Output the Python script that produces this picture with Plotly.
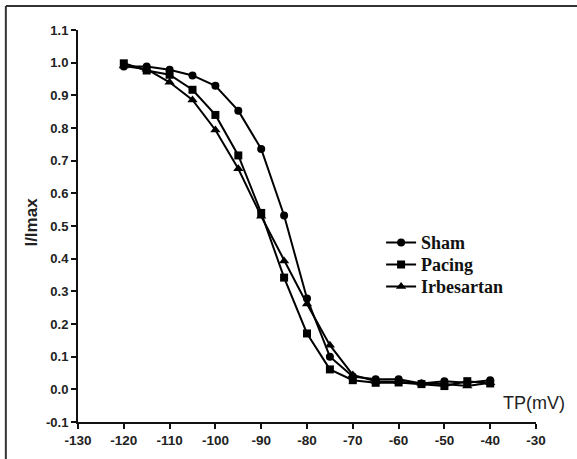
import plotly.graph_objects as go

voltage = [-120, -115, -110, -105, -100, -95, -90, -85, -80, -75, -70, -65, -60, -55, -50, -45, -40]
sham = [0.988, 0.988, 0.978, 0.961, 0.929, 0.853, 0.736, 0.532, 0.278, 0.100, 0.039, 0.031, 0.031, 0.018, 0.025, 0.020, 0.028]
pacing = [0.998, 0.976, 0.963, 0.917, 0.840, 0.716, 0.540, 0.342, 0.171, 0.061, 0.028, 0.020, 0.021, 0.016, 0.010, 0.025, 0.018]
irbesartan = [0.990, 0.980, 0.940, 0.886, 0.794, 0.675, 0.530, 0.393, 0.261, 0.135, 0.044, 0.025, 0.023, 0.018, 0.016, 0.010, 0.020]

series_names = ["Sham", "Pacing", "Irbesartan"]
series_values = [sham, pacing, irbesartan]
series_symbols = ["circle", "square", "triangle-up"]

x_ticks = [-130, -120, -110, -100, -90, -80, -70, -60, -50, -40, -30]
y_ticks = [-0.1, 0.0, 0.1, 0.2, 0.3, 0.4, 0.5, 0.6, 0.7, 0.8, 0.9, 1.0, 1.1]

W, H = 577, 459
L, R, T, B = 77.7, 536.0, 29.5, 422.0
pw, ph = R - L, B - T

def px(xp):
    return (xp - L) / pw

def py(yp):
    return (B - yp) / ph

legend_ids = ["legend", "legend2", "legend3"]
legend_centers = [242, 264, 286]

fig = go.Figure()
for name, vals, sym, lid in zip(series_names, series_values, series_symbols, legend_ids):
    fig.add_trace(go.Scatter(
        x=voltage, y=vals, name=name, mode="lines+markers", legend=lid,
        line=dict(color="black", width=2),
        marker=dict(symbol=sym, size=8 if sym != "triangle-up" else 9, color="black"),
    ))

axis_common = dict(
    showline=True, linecolor="#111", linewidth=2,
    ticks="outside", ticklen=5, tickwidth=2, tickcolor="#111",
    showgrid=False, zeroline=False,
)

legend_font = dict(family="Liberation Serif, Times New Roman, serif", size=18, color="#111", weight="bold")
legends = {}
for lid, c in zip(legend_ids, legend_centers):
    legends[lid] = dict(
        x=px(381), y=py(c - 18), xanchor="left", yanchor="top",
        font=legend_font, bgcolor="rgba(0,0,0,0)", borderwidth=0,
    )

fig.update_layout(
    width=W, height=H,
    margin=dict(l=L, r=W - R, t=T, b=H - B, pad=0),
    paper_bgcolor="white", plot_bgcolor="white",
    showlegend=True,
    xaxis=dict(range=[-130, -30], tickvals=x_ticks, ticktext=[str(v) for v in x_ticks],
               tickfont=dict(family="Liberation Sans, Arial, sans-serif", size=13.5, color="#222", weight="bold"),
               **axis_common),
    yaxis=dict(range=[-0.1, 1.1], tickvals=y_ticks, ticktext=[f"{v:.1f}" for v in y_ticks],
               tickfont=dict(family="Liberation Sans, Arial, sans-serif", size=13, color="#222", weight="bold"),
               **axis_common),
    **legends,
)

fig.add_annotation(
    x=px(533.5), y=py(403), xref="paper", yref="paper", text="TP(mV)", showarrow=False,
    xanchor="center", yanchor="middle",
    font=dict(family="Liberation Sans, Arial, sans-serif", size=18, color="#222"),
)
fig.add_annotation(
    x=px(31), y=py(222), xref="paper", yref="paper", text="I/Imax", showarrow=False,
    textangle=-90, xanchor="center", yanchor="middle",
    font=dict(family="Liberation Sans, Arial, sans-serif", size=17, color="#222", weight="bold"),
)

# image frame (top and left edges visible)
fig.add_shape(type="line", xref="paper", yref="paper", x0=px(5.5), x1=px(580), y0=py(5.5), y1=py(5.5),
              line=dict(color="#333", width=2))
fig.add_shape(type="line", xref="paper", yref="paper", x0=px(5.5), x1=px(5.5), y0=py(5.5), y1=py(462),
              line=dict(color="#333", width=2))

fig.write_html("out.html")
